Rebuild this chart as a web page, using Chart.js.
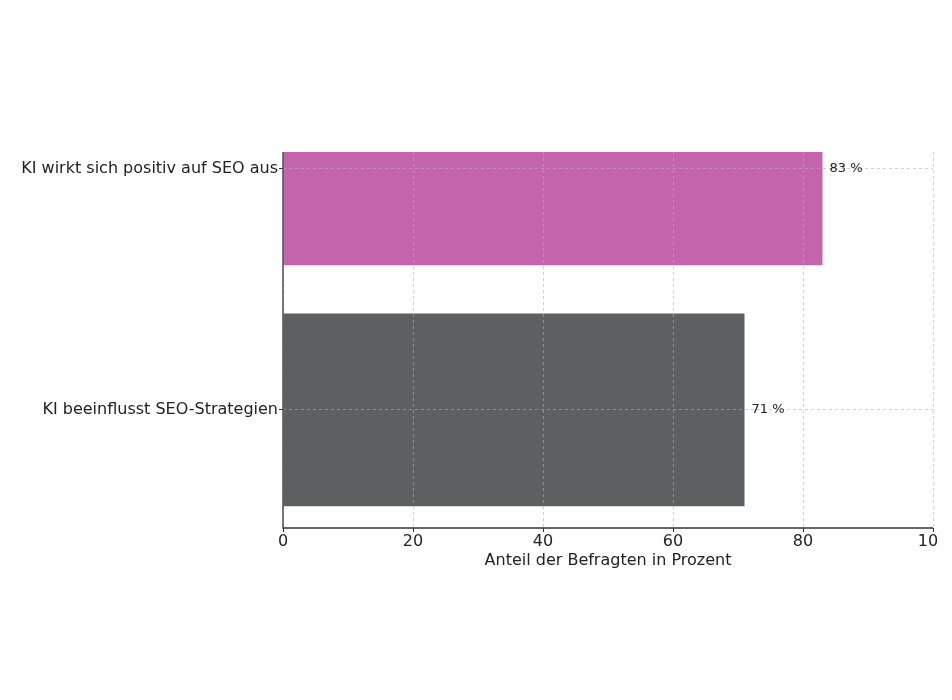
<!DOCTYPE html>
<html>
<head>
<meta charset="utf-8">
<script src="https://cdn.jsdelivr.net/npm/chart.js@4"></script>
<style>
    html, body { margin: 0; padding: 0; background: #fff; overflow: hidden; }
    #frame { width: 938px; height: 700px; overflow: hidden; }
    #wrap { width: 952px; height: 700px; }
</style>
</head>
<body>
<div id="frame"><div id="wrap"><canvas id="chart"></canvas></div></div>
<script>
const categories = ['KI beeinflusst SEO-Strategien', 'KI wirkt sich positiv auf SEO aus'];
const values = [71, 83];
const barColors = ['#5e5f61', '#c464ad'];
const xTicks = [0, 20, 40, 60, 80, 100];
const xTitle = 'Anteil der Befragten in Prozent';

const fontFamily = '"DejaVu Sans", sans-serif';
const textColor = '#222222';
const gridColor = 'rgba(176, 176, 176, 0.6)';
const spineColor = '#333333';

// left and bottom spines, drawn last so they sit on top of bars and grid
const spines = {
    id: 'spines',
    afterDraw(chart) {
        const ctx = chart.ctx;
        const a = chart.chartArea;
        ctx.save();
        ctx.strokeStyle = spineColor;
        ctx.lineWidth = 1.3;
        ctx.setLineDash([]);
        ctx.beginPath();
        ctx.moveTo(a.left, a.top);
        ctx.lineTo(a.left, a.bottom);
        ctx.lineTo(a.right, a.bottom);
        ctx.stroke();
        ctx.restore();
    }
};

const valueLabels = {
    id: 'valueLabels',
    afterDraw(chart) {
        const ctx = chart.ctx;
        const meta = chart.getDatasetMeta(0);
        ctx.save();
        ctx.font = '13px ' + fontFamily;
        ctx.fillStyle = textColor;
        ctx.textAlign = 'left';
        ctx.textBaseline = 'middle';
        meta.data.forEach((bar, i) => {
            ctx.fillText(values[i] + ' %', bar.x + 7, bar.y);
        });
        ctx.restore();
    }
};

document.addEventListener('DOMContentLoaded', function() {
    const ctx = document.getElementById('chart').getContext('2d');

    new Chart(ctx, {
        type: 'bar',
        data: {
            datasets: [{
                data: values.map((v, i) => ({ x: v, y: i })),
                backgroundColor: barColors,
                borderWidth: 0,
                barPercentage: 0.8,
                categoryPercentage: 1.0,
                clip: 0
            }]
        },
        options: {
            indexAxis: 'y',
            responsive: true,
            maintainAspectRatio: false,
            animation: false,
            layout: {
                padding: { left: 0, right: 19, top: 152, bottom: 0 }
            },
            plugins: {
                legend: { display: false },
                tooltip: { enabled: false }
            },
            scales: {
                x: {
                    type: 'linear',
                    position: 'bottom',
                    min: 0,
                    max: 100,
                    afterBuildTicks: scale => {
                        scale.ticks = xTicks.map(v => ({ value: v }));
                    },
                    afterFit: scale => {
                        scale.height = 172;
                    },
                    ticks: {
                        color: textColor,
                        font: { family: fontFamily, size: 16 },
                        padding: 0,
                        maxRotation: 0
                    },
                    grid: {
                        z: 1,
                        color: gridColor,
                        tickColor: spineColor,
                        tickBorderDash: [],
                        tickLength: 4,
                        lineWidth: 1
                    },
                    border: { display: false, dash: [3, 3] },
                    title: {
                        display: true,
                        text: xTitle,
                        color: textColor,
                        font: { family: fontFamily, size: 16 },
                        padding: { top: 4, bottom: 130 }
                    }
                },
                y: {
                    type: 'linear',
                    position: 'left',
                    min: -0.49,
                    max: 1.07,
                    offset: false,
                    afterBuildTicks: scale => {
                        scale.ticks = categories.map((c, i) => ({ value: i }));
                    },
                    afterFit: scale => {
                        scale.width = 283;
                    },
                    ticks: {
                        color: textColor,
                        font: { family: fontFamily, size: 16 },
                        padding: 1,
                        callback: value => categories[value]
                    },
                    grid: {
                        z: 1,
                        offset: false,
                        color: gridColor,
                        tickColor: spineColor,
                        tickBorderDash: [],
                        tickLength: 4,
                        lineWidth: 1
                    },
                    border: { display: false, dash: [3, 3] }
                }
            }
        },
        plugins: [valueLabels, spines]
    });
});
</script>
</body>
</html>
